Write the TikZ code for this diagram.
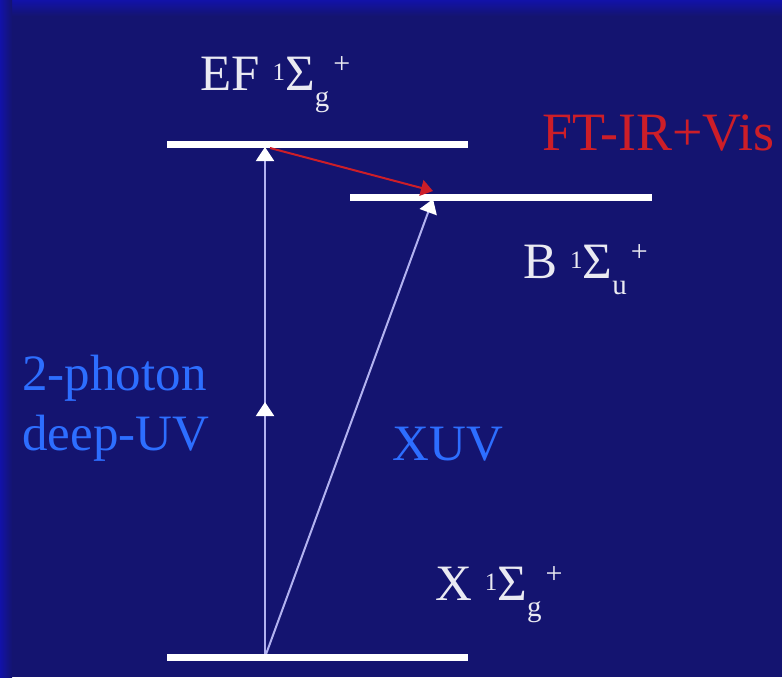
\documentclass[tikz,border=0pt]{standalone}
\usepackage{fontspec}
\setmainfont{Liberation Serif}
\usepackage{xcolor}
\usepackage{tikz}
\usetikzlibrary{arrows.meta,decorations.markings}

\definecolor{slidebg}{RGB}{20,20,112}
\definecolor{slideedge}{RGB}{18,18,168}
\definecolor{labelblue}{RGB}{45,110,255}
\definecolor{labelred}{RGB}{205,30,40}
\definecolor{statewhite}{RGB}{234,234,242}
\definecolor{beamline}{RGB}{178,178,240}

% term symbol ^1 Sigma _x ^+
\newcommand{\sigmaterm}[1]{{\fontsize{12.5}{12.5}\selectfont\raisebox{5pt}{1}}Σ{\fontsize{14.5}{14.5}\selectfont\raisebox{-8pt}{#1}}\hspace{0.08em}{\fontsize{15}{15}\selectfont\raisebox{8.5pt}{+}}}

\begin{document}
\begin{tikzpicture}[
    x=0.5pt, y=-0.5pt,
    level/.style={draw=white, line width=3.5pt},
    state/.style={text=statewhite, inner sep=0pt, anchor=base west, font=\fontsize{25.5}{30}\selectfont},
    bluelabel/.style={state, text=labelblue},
    redlabel/.style={state, text=labelred, font=\fontsize{27}{30}\selectfont},
    beam/.style={draw=beamline, line width=1pt, -{Triangle[width=9pt,length=7pt,color=white]}},
    irbeam/.style={draw=labelred, line width=1pt, -{Triangle[width=8pt,length=6pt,color=labelred]}},
    midtip/.style={postaction={decorate}, decoration={markings, mark=at position 0.5 with {\arrow{Triangle[width=9pt,length=7pt,color=white]}}}}
]
    % slide background
    \useasboundingbox (0,0) rectangle (782,677);
    \fill[slidebg] (0,0) rectangle (782,677);
    \shade[top color=slideedge, bottom color=slidebg] (0,0) rectangle (782,16);
    \shade[left color=slideedge, right color=slidebg] (0,0) rectangle (12,677);

    % level end points
    \coordinate (efl) at (167,144);
    \coordinate (efr) at (468,144);
    \coordinate (bl) at (350,197);
    \coordinate (br) at (652,197);
    \coordinate (xl) at (167,657);
    \coordinate (xr) at (468,657);

    % arrow end points
    \coordinate (xfoot) at (265,657);
    \coordinate (eftop) at (265,147);
    \coordinate (efout) at (270,148);
    \coordinate (bin) at (433,191);
    \coordinate (btop) at (433,199);

    \draw [beam, midtip] (xfoot) -- (eftop);
    \draw [beam] (xfoot) -- (btop);

    \draw [level] (efl) -- (efr);
    \draw [level] (bl) -- (br);
    \draw [level] (xl) -- (xr);

    \draw [irbeam] (efout) -- (bin);

    \node [state] (efname) at (200,90) {EF\hspace{0.25em}\sigmaterm{g}};
    \node [state] (bname) at (523,278) {B\hspace{0.25em}\sigmaterm{u}};
    \node [state] (xname) at (435,600) {X\hspace{0.25em}\sigmaterm{g}};
    \node [redlabel] (irvis) at (542,150) {FT-IR+Vis};
    \node [bluelabel] (photon) at (22,390) {2-photon};
    \node [bluelabel] (deepuv) at (22,450) {deep-UV};
    \node [bluelabel] (xuv) at (392,460) {XUV};
\end{tikzpicture}
\end{document}
